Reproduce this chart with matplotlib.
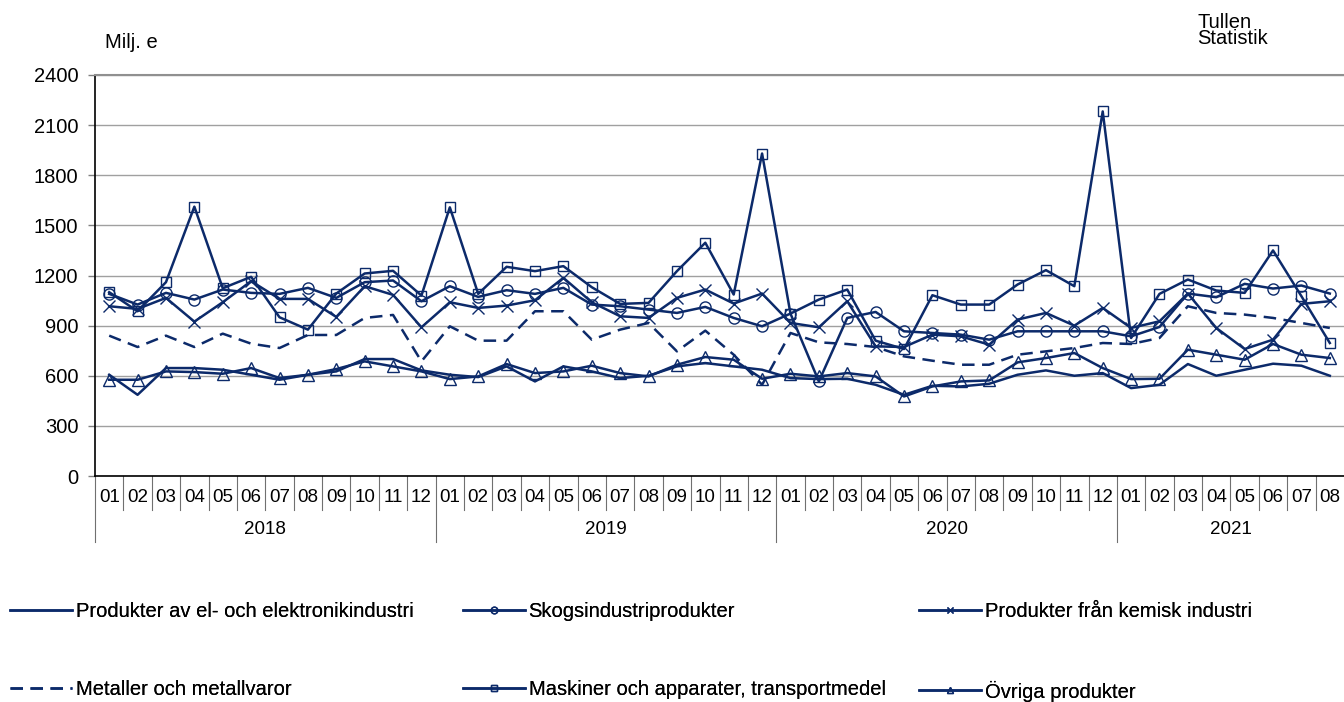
import numpy as np
import matplotlib.pyplot as plt
from matplotlib.transforms import blended_transform_factory

plt.rcParams['font.family'] = ['Liberation Sans', 'DejaVu Sans']

# data, Milj. e, 2018-01 .. 2021-08
years = ['2018', '2019', '2020', '2021']
months = ['01', '02', '03', '04', '05', '06', '07', '08', '09', '10', '11', '12'] * 3 + \
         ['01', '02', '03', '04', '05', '06', '07', '08']

el = [606, 486, 646, 646, 636, 606, 576, 606, 626, 700, 700, 632,
      606, 592, 656, 566, 656, 626, 586, 600, 656, 676, 656, 636,
      586, 580, 582, 546, 486, 540, 536, 552, 606, 632, 600, 616,
      526, 546, 670, 600, 636, 672, 660, 600]
skog = [1090, 1026, 1096, 1056, 1116, 1096, 1090, 1126, 1066, 1160, 1170, 1046,
        1136, 1072, 1112, 1090, 1126, 1026, 1016, 996, 976, 1012, 946, 896,
        972, 566, 946, 982, 866, 856, 846, 816, 866, 866, 866, 866,
        836, 892, 1092, 1070, 1150, 1122, 1140, 1092]
kemisk = [1016, 1000, 1066, 924, 1040, 1166, 1060, 1060, 952, 1136, 1084, 890,
          1040, 1006, 1020, 1052, 1186, 1040, 956, 946, 1066, 1116, 1032, 1092,
          916, 890, 1046, 776, 772, 846, 836, 786, 936, 976, 900, 1006,
          886, 926, 1092, 886, 760, 816, 1030, 1046]
metaller = [840, 772, 840, 772, 852, 792, 766, 844, 844, 946, 964, 686,
            896, 810, 810, 986, 986, 816, 876, 916, 746, 870, 726, 546,
            856, 800, 790, 772, 716, 690, 666, 666, 726, 746, 766, 796,
            790, 826, 1016, 976, 966, 946, 916, 886]
maskiner = [1100, 986, 1160, 1612, 1124, 1192, 950, 876, 1092, 1212, 1228, 1080,
            1608, 1090, 1252, 1226, 1256, 1130, 1030, 1036, 1226, 1396, 1086, 1930,
            972, 1056, 1116, 810, 760, 1082, 1026, 1026, 1146, 1232, 1136, 2182,
            826, 1090, 1176, 1110, 1096, 1350, 1076, 796]
ovriga = [576, 576, 626, 622, 612, 646, 586, 606, 640, 686, 656, 626,
          580, 596, 670, 616, 626, 660, 616, 596, 666, 712, 696, 582,
          612, 596, 616, 596, 476, 536, 566, 572, 680, 706, 736, 646,
          580, 582, 756, 726, 696, 790, 726, 706]

navy = '#0c2a6a'
W, H = 1344, 702
fig = plt.figure(figsize=(W / 100, H / 100), dpi=100)
ax = fig.add_axes([95 / W, 1 - 476 / H, 1249 / W, 401 / H])

x = np.arange(len(months))
lw = 1.8
ms = 8
ax.plot(x, el, color=navy, lw=lw, label='Produkter av el- och elektronikindustri')
ax.plot(x, skog, color=navy, lw=lw, marker='o', ms=ms, mfc='none', mec=navy, mew=1,
        label='Skogsindustriprodukter')
ax.plot(x, kemisk, color=navy, lw=lw, marker='x', ms=ms, mec=navy, mew=1,
        label='Produkter från kemisk industri')
ax.plot(x, metaller, color=navy, lw=lw, dashes=[5, 3], label='Metaller och metallvaror')
ax.plot(x, maskiner, color=navy, lw=lw, marker='s', ms=ms - 1, mfc='none', mec=navy, mew=1,
        label='Maskiner och apparater, transportmedel')
ax.plot(x, ovriga, color=navy, lw=lw, marker='^', ms=ms, mfc='none', mec=navy, mew=1,
        label='Övriga produkter')

ax.set_xlim(-0.5, len(months) - 0.5)
ax.set_ylim(0, 2400)
ax.set_yticks(np.arange(0, 2401, 300))
ax.tick_params(axis='y', labelsize=14.5, length=5, width=1, color='#808080', pad=7)
ax.set_xticks([])
ax.grid(axis='y', color='#a0a0a0', lw=1)
ax.set_axisbelow(True)
ax.spines['right'].set_visible(False)
ax.spines['top'].set_color('#909090')
ax.spines['top'].set_linewidth(1.5)
ax.spines['left'].set_linewidth(1.2)
ax.spines['bottom'].set_linewidth(1.2)

# category axis: months and years
tr = blended_transform_factory(ax.transData, ax.transAxes)
sep_m = -34 / 401
sep_y = -66 / 401
for i, m in enumerate(months):
    ax.text(i, -22 / 401, m, transform=tr, ha='center', va='center', fontsize=13.5)
    ax.plot([i - 0.5, i - 0.5], [0, sep_y if i % 12 == 0 else sep_m], transform=tr,
            color='#707070', lw=0.8, clip_on=False)
for k, yr in enumerate(years):
    start = k * 12
    end = min(start + 12, len(months))
    ax.text((start + end - 1) / 2, -54 / 401, yr, transform=tr, ha='center', va='center',
            fontsize=13.5)

fig.text(105 / W, 1 - 43 / H, 'Milj. e', fontsize=14.5, ha='left', va='center')
fig.text(1197 / W, 1 - 30 / H, 'Tullen\nStatistik', fontsize=14.5, ha='left', va='center',
         linespacing=0.8)

# legend in three columns
handles, labels = ax.get_legend_handles_labels()
cols = [(0, 3), (1, 4), (2, 5)]
xs = [2, 455, 911]
for (a, b), lx in zip(cols, xs):
    leg = fig.legend([handles[a], handles[b]], [labels[a], labels[b]], loc='upper left',
                     bbox_to_anchor=(lx / W, 1 - 594 / H), frameon=False, fontsize=14.5,
                     handlelength=3.1, handletextpad=0.15, labelspacing=2.95,
                     markerscale=0.6, borderaxespad=0)
    fig.add_artist(leg)

fig.savefig('out.png', dpi=100)
